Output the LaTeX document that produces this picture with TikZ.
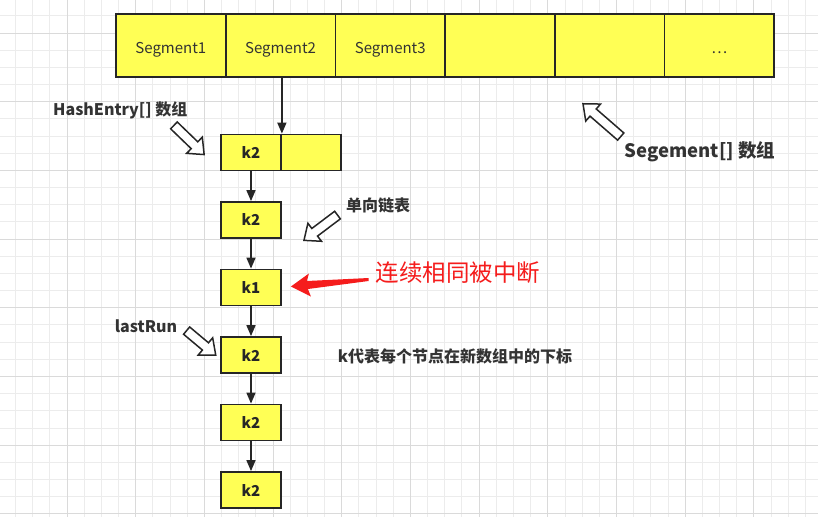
\documentclass[tikz,border=0pt]{standalone}
\usepackage{fontspec}
\setmainfont{Noto Sans CJK SC}
\usetikzlibrary{arrows.meta,positioning,shapes.arrows,calc}
\definecolor{cellfill}{RGB}{255,255,85}
\definecolor{gridminor}{RGB}{236,236,236}
\definecolor{gridmajor}{RGB}{218,218,218}
\definecolor{linkred}{RGB}{245,28,28}
\tikzset{
  segcell/.style={rectangle,draw=black!85,fill=cellfill,line width=1.8pt,minimum width=109.7pt,minimum height=63pt,inner sep=0pt,text height=17pt,text depth=2pt,text=black!80,font=\fontsize{15}{17}\selectfont},
  entry/.style={rectangle,draw=black!85,fill=cellfill,line width=1.8pt,minimum width=60pt,minimum height=36pt,inner sep=0pt,text=black!85,font=\bfseries\fontsize{15}{17}\selectfont},
  hollow/.style={single arrow,draw=black!85,fill=white,line width=1.5pt,inner sep=4pt,single arrow head extend=6.5pt,single arrow tip angle=80},
  note/.style={inner sep=0pt,text=black!80,font=\bfseries\fontsize{16}{19}\selectfont}
}
\begin{document}
\begin{tikzpicture}[
  x=1pt,y=-1pt,
  >={Triangle[length=11pt,width=9pt]},
  link/.style={->,line width=1.6pt,draw=black!85}
]
  % --- page and grid ---
  \useasboundingbox (0,0) rectangle (818,517);
  \fill[white] (0,0) rectangle (818,517);
  \foreach \i in {0,...,48} \draw[gridminor,line width=0.8pt] ({-1.7+17.17*\i},0) -- ++(0,517);
  \foreach \j in {0,...,31} \draw[gridminor,line width=0.8pt] (0,{-1.34+17.17*\j}) -- ++(818,0);
  \foreach \i in {0,...,12} \draw[gridmajor,line width=0.9pt] ({-1.7+68.67*\i},0) -- ++(0,517);
  \foreach \j in {0,...,7} \draw[gridmajor,line width=0.9pt] (0,{33+68.67*\j}) -- ++(818,0);

  % --- Segment[] array ---
  \foreach \n/\t in {1/Segment1,2/Segment2,3/Segment3,4/{},5/{},6/\ldots}
    \node[segcell] (seg\n) at ({116+109.7*(\n-0.5)},45.5) {\t};

  % --- HashEntry[] entry and linked list ---
  \node[entry] (e0)  at (251,152.5) {k2};
  \node[entry] (e0r) at (311,152.5) {};
  \foreach \i/\k in {1/k2,2/k1,3/k2,4/k2,5/k2}
    \node[entry] (n\i) at (251,{152.5+67.5*\i}) {\k};

  \draw[link] (e0.north east |- seg2.south) -- (e0.north east);
  \draw[link] (e0) -- (n1);
  \foreach \a/\b in {1/2,2/3,3/4,4/5}
    \draw[link] (n\a) -- (n\b);

  % --- labels ---
  \node[note,anchor=west] (helbl) at (53,110) {HashEntry[] 数组};
  \node[note] (listlbl) at (378,205) {单向链表};
  \node[note,font=\bfseries\fontsize{18.5}{21}\selectfont] (seglbl) at (700,152) {Segement[] 数组};
  \node[note] (lrlbl) at (146,326) {lastRun};
  \node[note] (klbl) at (455,356) {k代表每个节点在新数组中的下标};
  \node[inner sep=0pt,text=linkred,font=\fontsize{23.5}{26}\selectfont] (redlbl) at (458,273) {连续相同被中断};

  % --- hollow pointers ---
  \node[hollow,minimum height=42pt,rotate=-44] (heptr) at (187,138) {};
  \node[hollow,minimum height=42pt,rotate=217] (listptr) at (323,226) {};
  \node[hollow,minimum height=50pt,rotate=139] (segptr) at (604,122) {};
  \node[hollow,minimum height=38pt,rotate=-40] (lrptr) at (199,341) {};

  % --- red pointer to k1 ---
  \coordinate (rtip) at ($(n2.east)+(9,-1)$);
  \coordinate (rtail) at ($(redlbl.west)+(-7,5)$);
  \fill[linkred] (rtip) -- ++(18,-13) -- ++(-2,7.5) -- (rtail) -- ++(0,3)
    -- ($(rtip)+(17,2.5)$) -- ++(3,7.5) -- cycle;
\end{tikzpicture}
\end{document}
